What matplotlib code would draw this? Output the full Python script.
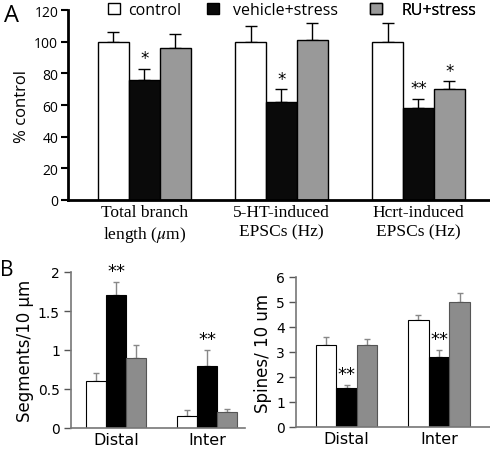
import matplotlib
matplotlib.use("Agg")
import matplotlib.pyplot as plt
from matplotlib.patches import Patch
import numpy as np

plt.rcParams['mathtext.fontset'] = 'stix'

# --- panel A data (% control)
groupsA = ['Total branch\nlength ($\\mu$m)', '5-HT-induced\nEPSCs (Hz)', 'Hcrt-induced\nEPSCs (Hz)']
ctrlA = [100, 100, 100]
ctrlA_err = [6, 10, 12]
vehA = [76, 62, 58]
vehA_err = [7, 8, 6]
ruA = [96, 101, 70]
ruA_err = [9, 11, 5]
starsA_veh = ['*', '*', '**']
starsA_ru = ['', '', '*']

# --- panel B data
groupsB = ['Distal', 'Inter']
seg_ctrl = [0.6, 0.16]
seg_ctrl_err = [0.1, 0.07]
seg_veh = [1.7, 0.8]
seg_veh_err = [0.17, 0.2]
seg_ru = [0.9, 0.2]
seg_ru_err = [0.16, 0.05]

spn_ctrl = [3.3, 4.3]
spn_ctrl_err = [0.3, 0.2]
spn_veh = [1.55, 2.8]
spn_veh_err = [0.15, 0.28]
spn_ru = [3.3, 5.0]
spn_ru_err = [0.22, 0.35]

labels = ['control', 'vehicle+stress', 'RU+stress']

SANS_A = ['Open Sans', 'DejaVu Sans']
SANS_B = ['DejaVu Sans']
SERIF = ['Liberation Serif', 'DejaVu Serif']

fig = plt.figure(figsize=(4.9, 4.52), dpi=100)

# ================= panel A
axA = fig.add_axes([68/490, 1-201/452, (490-68)/490, 190/452])
x = np.arange(3)
w = 0.226
cols = ['white', '#0a0a0a', '#999999']
for k, (vals, errs) in enumerate([(ctrlA, ctrlA_err), (vehA, vehA_err), (ruA, ruA_err)]):
    pos = x + (k-1)*w
    axA.bar(pos, vals, w, color=cols[k], edgecolor='black', linewidth=1.0, zorder=2)
    axA.errorbar(pos, vals, yerr=[np.zeros(3), errs], fmt='none', ecolor='black',
                 elinewidth=1.0, capsize=4, capthick=1.0, zorder=1)
for i in range(3):
    if starsA_veh[i]:
        axA.text(x[i], vehA[i]+vehA_err[i]+1, starsA_veh[i], ha='center', va='bottom',
                 fontsize=12, family=SANS_B)
    if starsA_ru[i]:
        axA.text(x[i]+w, ruA[i]+ruA_err[i]+1, starsA_ru[i], ha='center', va='bottom',
                 fontsize=12, family=SANS_B)
axA.set_xlim(-0.558, 2.522)
axA.set_ylim(0, 120)
axA.set_yticks(range(0, 121, 20))
axA.set_xticks(x)
axA.set_xticklabels(groupsA, family=SERIF, fontsize=12.5, linespacing=1.3)
axA.tick_params(axis='x', length=0, pad=3)
axA.tick_params(axis='y', length=5, width=1.5, labelsize=10, pad=2)
for t in axA.get_yticklabels():
    t.set_family(SANS_A)
axA.set_ylabel('% control', family=SANS_A, fontsize=12, labelpad=3)
axA.spines['top'].set_visible(False)
axA.spines['right'].set_visible(False)
axA.spines['left'].set_linewidth(2)
axA.spines['bottom'].set_linewidth(2)

# legend, three separate entries across the top
leg_pos = [(0.095, 1.0), (0.33, 1.0), (0.716, 1.0)]
for k in range(3):
    h = Patch(facecolor=cols[k], edgecolor='black', linewidth=1.0)
    lg = axA.legend([h], [labels[k]], loc='center left', bbox_to_anchor=leg_pos[k],
                    frameon=False, handlelength=0.75, handleheight=0.75,
                    handletextpad=0.5 + 0.35*k, borderpad=0, borderaxespad=0,
                    prop={'family': SANS_A, 'size': 11.5})
    axA.add_artist(lg)

fig.text(4/490, 1-16/452, 'A', fontsize=17, family=SANS_A, va='center')

# ================= panel B helper
def panelB(ax, c, ce, v, ve, r, re, stars_y, ylim, yticks, ylabel, xlim, w):
    xb = np.arange(2)
    gcol = '#8c8c8c'
    specs = [(c, ce, 'white', 'black'), (v, ve, 'black', 'black'), (r, re, gcol, '#555555')]
    for k, (vals, errs, fc, ec) in enumerate(specs):
        pos = xb + (k-1)*w
        ax.bar(pos, vals, w, color=fc, edgecolor=ec, linewidth=0.8, zorder=2)
        ax.errorbar(pos, vals, yerr=[np.zeros(2), errs], fmt='none', ecolor='#888888',
                    elinewidth=1.0, capsize=2.5, capthick=1.0, zorder=1)
    for i in range(2):
        ax.text(xb[i], stars_y[i], '**', ha='center', va='bottom', fontsize=13, family=SANS_B)
    ax.set_xlim(*xlim)
    ax.set_ylim(*ylim)
    ax.set_yticks(yticks)
    ax.set_yticklabels([('%g' % t) for t in yticks], family=SANS_B, fontsize=10)
    ax.set_xticks(xb)
    ax.set_xticklabels(groupsB, family=SANS_B, fontsize=11.5)
    ax.tick_params(axis='x', length=0, pad=3)
    ax.tick_params(axis='y', length=5, width=1.0, color='#555555', pad=3)
    ax.set_ylabel(ylabel, family=SANS_B, fontsize=12, labelpad=3)
    ax.spines['top'].set_visible(False)
    ax.spines['right'].set_visible(False)
    for s in ['left', 'bottom']:
        ax.spines[s].set_color('#777777')
        ax.spines[s].set_linewidth(1.2)

axB1 = fig.add_axes([71/490, 1-429/452, (245-71)/490, 156/452])
panelB(axB1, seg_ctrl, seg_ctrl_err, seg_veh, seg_veh_err, seg_ru, seg_ru_err,
       [1.9, 1.02], (0, 2), [0, 0.5, 1, 1.5, 2], 'Segments/10 μm', (-0.495, 1.418), 0.22)

axB2 = fig.add_axes([296/490, 1-428/452, (490-296)/490, 150/452])
panelB(axB2, spn_ctrl, spn_ctrl_err, spn_veh, spn_veh_err, spn_ru, spn_ru_err,
       [1.75, 3.15], (0, 6), range(0, 7), 'Spines/ 10 um', (-0.546, 1.551), 0.222)

fig.text(0/490, 1-270/452, 'B', fontsize=15, family=SANS_A, va='center')

fig.savefig('out.png', dpi=100)
